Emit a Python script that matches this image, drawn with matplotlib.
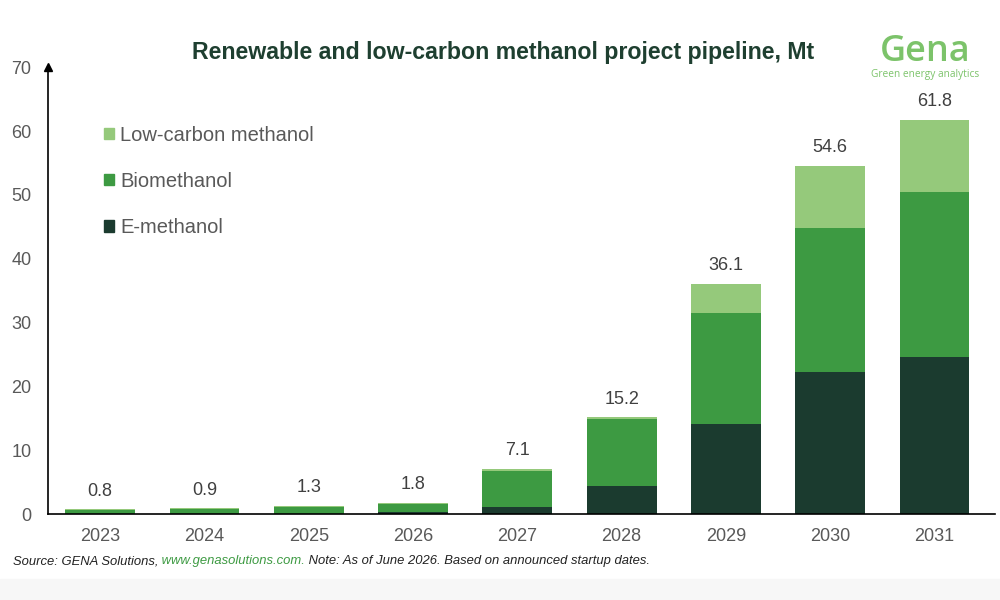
import matplotlib
matplotlib.use("Agg")
import matplotlib.pyplot as plt
from matplotlib.patches import Patch
import numpy as np

plt.rcParams['font.family'] = ['Liberation Sans', 'DejaVu Sans']

years = ['2023', '2024', '2025', '2026', '2027', '2028', '2029', '2030', '2031']
e_methanol = [0.05, 0.05, 0.05, 0.3, 1.1, 4.4, 14.2, 22.2, 24.6]
biomethanol = [0.65, 0.7, 1.05, 1.3, 5.6, 10.5, 17.3, 22.6, 25.8]
low_carbon = [0.1, 0.15, 0.2, 0.2, 0.4, 0.3, 4.6, 9.8, 11.4]
totals = [0.8, 0.9, 1.3, 1.8, 7.1, 15.2, 36.1, 54.6, 61.8]

c_e = '#1b3b2f'
c_bio = '#3d9a42'
c_low = '#95c97b'
grey = '#595959'

fig = plt.figure(figsize=(10, 6), dpi=100)
ax = fig.add_axes([0.048, 0.143, 0.947, 0.745])

x = np.arange(len(years))
w = 0.67
ax.bar(x, e_methanol, w, color=c_e, label='E-methanol')
ax.bar(x, biomethanol, w, bottom=e_methanol, color=c_bio, label='Biomethanol')
bot2 = np.array(e_methanol) + np.array(biomethanol)
ax.bar(x, low_carbon, w, bottom=bot2, color=c_low, label='Low-carbon methanol')

for xi, t in zip(x, totals):
    ax.text(xi, t + 1.5, f'{t:.1f}', ha='center', va='bottom', fontsize=13, color='#404040')

ax.set_xlim(-0.5, 8.58)
ax.set_ylim(0, 70)
ax.set_yticks(range(0, 71, 10))
ax.set_xticks(x)
ax.set_xticklabels(years)
ax.tick_params(axis='both', length=0, labelsize=13, colors=grey)
ax.tick_params(axis='x', pad=10)
ax.tick_params(axis='y', pad=12)
for s in ['top', 'right']:
    ax.spines[s].set_visible(False)
ax.spines['left'].set_linewidth(1.2)
ax.spines['bottom'].set_linewidth(1.2)
ax.plot(0, 1, '^k', transform=ax.transAxes, clip_on=False, markersize=6)

handles = [Patch(color=c_low), Patch(color=c_bio), Patch(color=c_e)]
labels = ['Low-carbon methanol', 'Biomethanol', 'E-methanol']
leg = ax.legend(handles, labels, loc='upper left', bbox_to_anchor=(0.04, 0.91),
                frameon=False, fontsize=14.5, handlelength=0.5, handleheight=0.5,
                handletextpad=0.3, labelspacing=1.35, labelcolor=grey)

fig.text(0.503, 0.913, 'Renewable and low-carbon methanol project pipeline, Mt',
         ha='center', va='center', fontsize=16.7, fontweight='bold', color='#1e3f30')

fig.text(0.925, 0.899, 'Gena', ha='center', va='baseline', fontsize=26, color='#7cc36a',
         fontweight='semibold', family=['Open Sans', 'DejaVu Sans'])
fig.text(0.925, 0.876, 'Green energy analytics', ha='center', va='center', fontsize=7.3,
         color='#7cc36a', family=['Open Sans', 'DejaVu Sans'])

# source line, pieced together for the green link
t1 = fig.text(0.013, 0.06, 'Source: GENA Solutions,', fontsize=9.4, style='italic', color='#222222')
fig.canvas.draw()
r = fig.canvas.get_renderer()
bb = t1.get_window_extent(r)
t2 = fig.text(bb.x1 / 1000, 0.06, ' www.genasolutions.com.', fontsize=9.4, style='italic', color='#3d9a42')
bb2 = t2.get_window_extent(r)
fig.text(bb2.x1 / 1000, 0.06, ' Note: As of June 2026. Based on announced startup dates.',
         fontsize=9.4, style='italic', color='#222222')

fig.patches.append(plt.Rectangle((0, 0), 1, 0.035, transform=fig.transFigure,
                                 color='#f7f7f7', zorder=-1))

fig.savefig('out.png', dpi=100)
